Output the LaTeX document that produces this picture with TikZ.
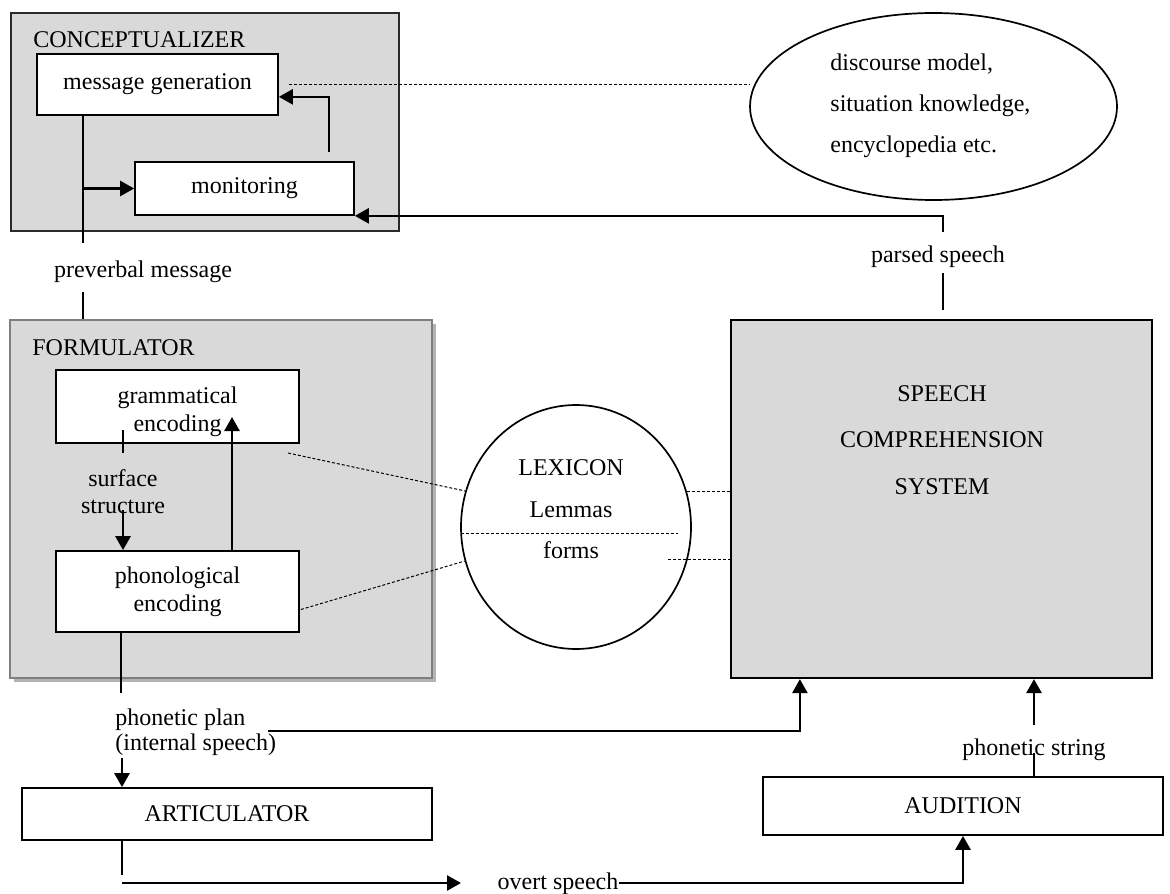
\documentclass[tikz,border=0pt]{standalone}
\usepackage{fontspec}
\setmainfont{Liberation Serif}
\usetikzlibrary{arrows.meta,shapes.geometric,calc}
\definecolor{boxgrey}{HTML}{D9D9D9}
\definecolor{framegrey}{HTML}{7F7F7F}
\definecolor{shadowgrey}{HTML}{B3B3B3}
\definecolor{darkframe}{HTML}{2A2A2A}
\begin{document}
\begin{tikzpicture}[x=0.5pt,y=-0.5pt,
  every node/.style={font=\fontsize{12}{13.8}\selectfont},
  wbox/.style={draw=black, line width=0.85pt, fill=white, rectangle, inner sep=0pt, align=center},
  gbox/.style={rectangle, fill=boxgrey, line width=1.1pt, inner sep=0pt},
  arr/.style={line width=1.3pt, -{Triangle[length=7pt,width=7.5pt]}},
  conn/.style={line width=0.8pt},
  dotl/.style={line width=0.5pt, dash pattern=on 1.5pt off 1pt},
  lbl/.style={inner sep=0pt}
]
\useasboundingbox (0,0) rectangle (1170,893);

% ---------------- Conceptualizer
\node[gbox, draw=darkframe, minimum width=194pt, minimum height=109pt] (concept) at (205,122) {};
\node[lbl, anchor=base west] (conceptT) at (33,48) {CONCEPTUALIZER};
\node[wbox, minimum width=120.5pt, minimum height=30.5pt] (msg) at (157.5,84.5) {message generation};
\node[wbox, minimum width=109.5pt, minimum height=26.5pt] (mon) at (244.5,188.5) {monitoring};

% ---------------- Knowledge ellipse
\node[draw, ellipse, line width=0.85pt, minimum width=183.5pt, minimum height=93.5pt, inner sep=0pt] (disc) at (933.5,106.5) {};
\node[lbl, anchor=base west] (discT1) at (830,71) {discourse model,};
\node[lbl, anchor=base west] (discT2) at (830,112) {situation knowledge,};
\node[lbl, anchor=base west] (discT3) at (830,153) {encyclopedia etc.};

% ---------------- Formulator
\node[rectangle, fill=shadowgrey, minimum width=211pt, minimum height=179pt, inner sep=0pt] (formS) at (225,503) {};
\node[gbox, draw=framegrey, minimum width=211pt, minimum height=179pt] (form) at (221,499) {};
\node[lbl, anchor=base west] (formT) at (32,355) {FORMULATOR};
\node[wbox, minimum width=121.5pt, minimum height=36.5pt] (gram) at (177.5,406.5) {};
\node[lbl, align=center] (gramT) at (177.5,411.5) {grammatical\\encoding};
\node[wbox, minimum width=121.5pt, minimum height=40.5pt] (phon) at (177.5,591.5) {phonological\\encoding};

% ---------------- Lexicon
\node[draw, ellipse, line width=0.85pt, minimum width=115pt, minimum height=122pt, inner sep=0pt] (lex) at (576,527) {};
\node[lbl, anchor=base] (lexT1) at (571,475) {LEXICON};
\node[lbl, anchor=base] (lexT2) at (571,517) {Lemmas};
\node[lbl, anchor=base] (lexT3) at (571,558) {forms};

% ---------------- Speech comprehension system
\node[gbox, draw=black, minimum width=210.5pt, minimum height=179pt] (comp) at (941.5,499) {};
\node[lbl, anchor=base] (compT1) at (942,401) {SPEECH};
\node[lbl, anchor=base] (compT2) at (942,447) {COMPREHENSION};
\node[lbl, anchor=base] (compT3) at (942,494) {SYSTEM};

% ---------------- Articulator / Audition
\node[wbox, minimum width=205pt, minimum height=26pt] (art) at (227,814) {ARTICULATOR};
\node[wbox, minimum width=200pt, minimum height=29pt] (aud) at (963,806) {AUDITION};

% ---------------- Labels
\node[lbl, anchor=base] (pvT) at (143,277) {preverbal message};
\node[lbl, anchor=base] (psT) at (938,262) {parsed speech};
\node[lbl, anchor=base] (sT1) at (123,486) {surface};
\node[lbl, anchor=base] (sT2) at (123,513) {structure};
\node[lbl, anchor=base west] (ppT1) at (115,725) {phonetic plan};
\node[lbl, anchor=base west] (ppT2) at (115,750) {(internal speech)};
\node[lbl, anchor=base] (ovT) at (558,889) {overt speech};
\node[lbl, anchor=base] (phsT) at (1034,755) {phonetic string};

% ---------------- Coordinates for free ends
\coordinate (pvA) at (83,243);
\coordinate (pvB) at (83,292);
\coordinate (fbA) at (329,152);
\coordinate (psA) at (943,232);
\coordinate (psB) at (943,273);
\coordinate (psC) at (943,310);
\coordinate (sA) at (123,430);
\coordinate (sB) at (123,453);
\coordinate (sC) at (123,510);
\coordinate (upA) at (232,417);
\coordinate (ppA) at (121,693);
\coordinate (ppB) at (122,758);
\coordinate (ppC) at (268,731);
\coordinate (dA) at (288,453);
\coordinate (lxA) at (461,533);
\coordinate (lxB) at (678,533);
\coordinate (lxC) at (668,559);
\coordinate (ovA) at (122,875);
\coordinate (ovB) at (122,883);
\coordinate (ovC) at (461,883);
\coordinate (phA) at (1034,753);
\coordinate (phB) at (1034,725);

% ---------------- Connectors: conceptualizer
\draw[conn] (msg.south -| pvA) -- (pvA);
\draw[arr] (pvA |- mon.west) -- (mon.west);
\draw[arr] (fbA) |- ($(msg.south east)+(0,-19)$);
\draw[dotl] ([xshift=5pt]msg.east) -- (msg.east -| disc.west);
\draw[arr] (psA) |- (mon.south east);
\draw[conn] (psB) -- (psC);
\draw[conn] (pvB) -- (pvB |- form.north);

% ---------------- Connectors: formulator
\draw[conn] (sA) -- (sB);
\draw[arr] (sC) -- (sC |- phon.north);
\draw[arr] (upA |- phon.north) -- (upA);
\draw[conn] (ppA |- phon.south) -- (ppA);
\draw[arr] (ppB) -- (ppB |- art.north);
\draw[arr] (ppC) -| ($(comp.south west)+(70,0)$);

% ---------------- Lexicon dotted links
\draw[dotl] (dA) -- (lex.162);
\draw[dotl] ($(phon.east)+(1,18)$) -- (lex.197);
\draw[dotl] (lxA) -- (lxB);
\draw[dotl] (lex.18) -- (lex.18 -| comp.west);
\draw[dotl] (lxC) -- (lxC -| comp.west);

% ---------------- Articulator / Audition
\draw[conn] (art.south -| ovA) -- (ovA);
\draw[arr] (ovB) -- (ovC);
\draw[arr] (ovT.east |- ovC) -| (aud.south);
\draw[conn] (aud.north -| phA) -- (phA);
\draw[arr] (phB) -- (phB |- comp.south);
\end{tikzpicture}
\end{document}
